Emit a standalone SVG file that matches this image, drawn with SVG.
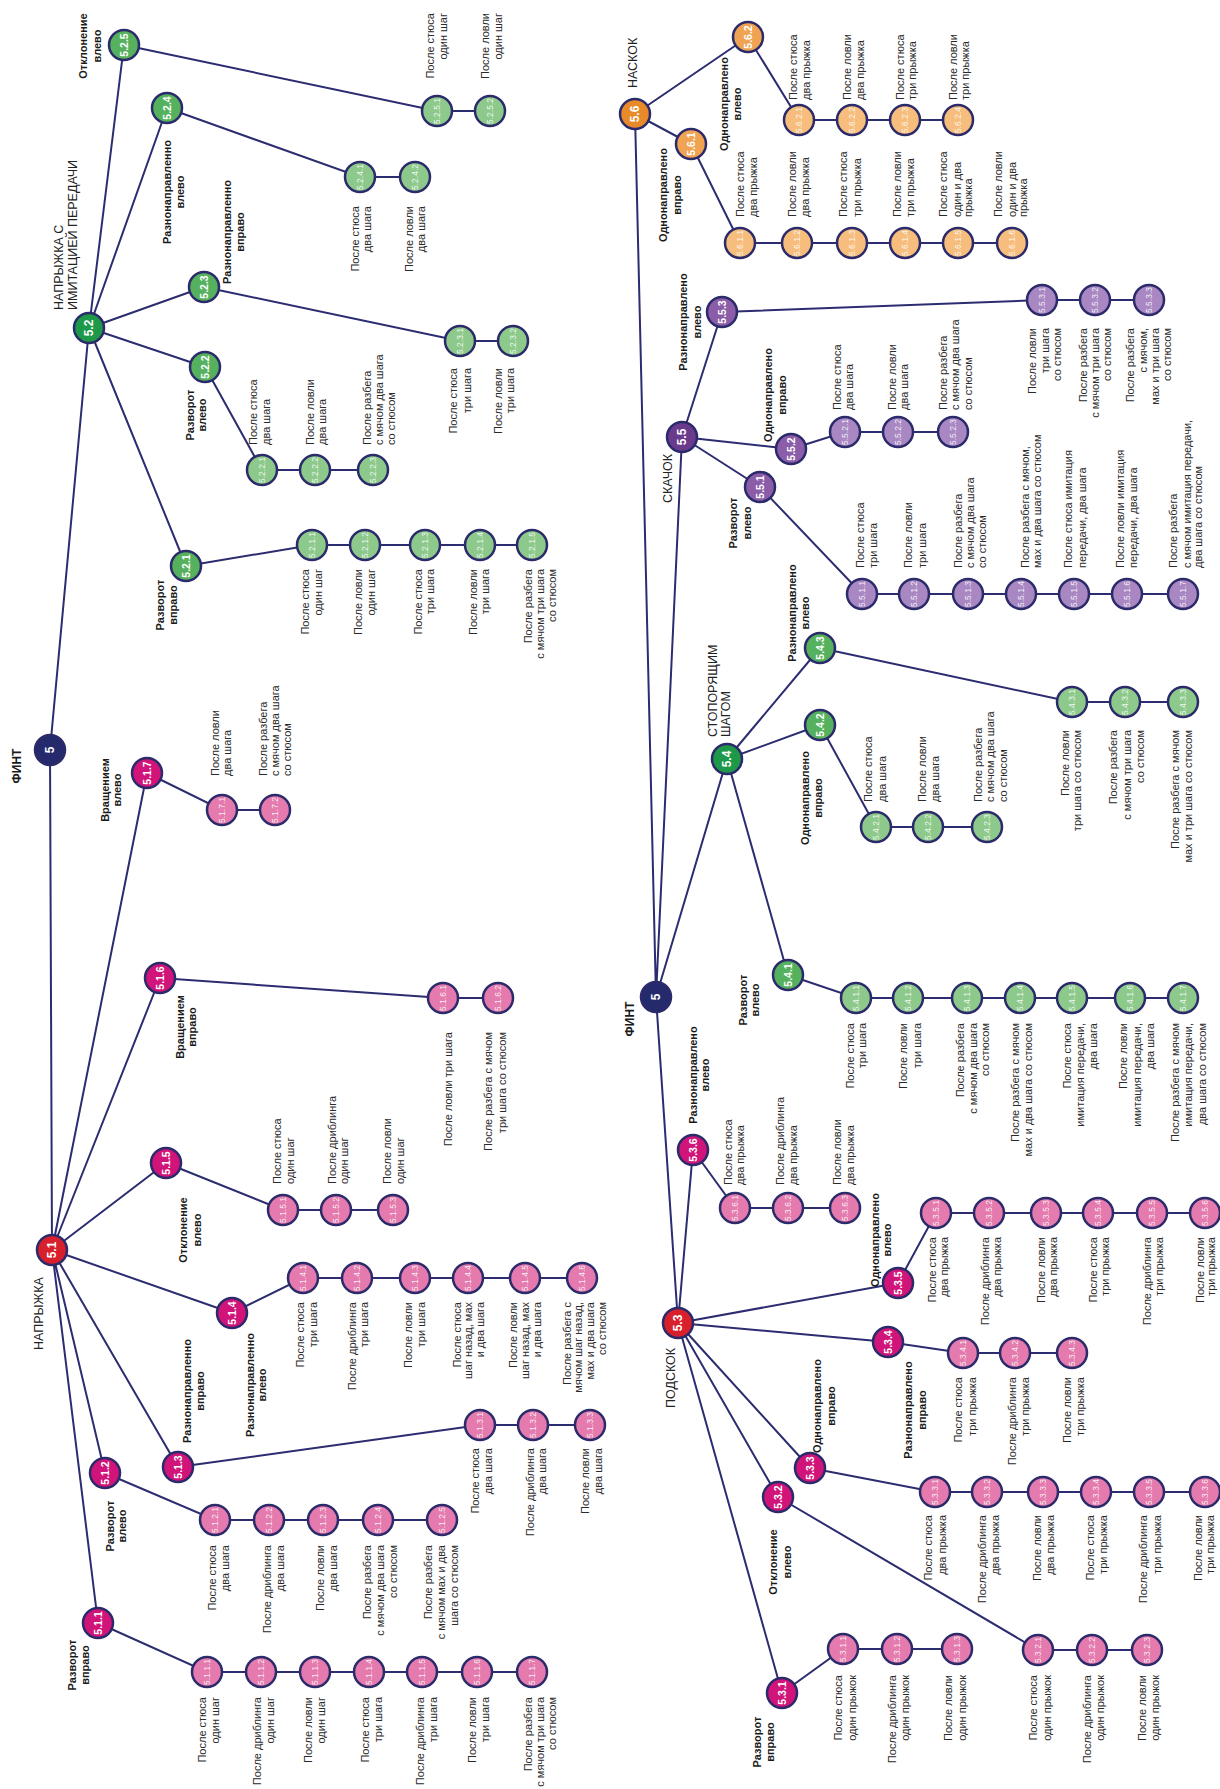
<svg xmlns="http://www.w3.org/2000/svg" width="1220" height="1789" viewBox="0 0 1220 1789">
<style>
text{font-family:"Liberation Sans",Arial,sans-serif}
.ln{stroke:#2c2c70;stroke-width:2;fill:none}
.c{stroke:#2b2a6a;stroke-width:2.5}
.f0{fill:#252a6c}.fr{fill:#d7202b}.fm{fill:#d0147a}.fp{fill:#e47aad}
.fg{fill:#1e9949}.fg2{fill:#55b15d}.fg3{fill:#8dc98b}
.fv{fill:#6a3a8c}.fv2{fill:#8b5ca8}.fv3{fill:#a887c2}
.fo{fill:#e8892a}.fo2{fill:#f0a352}.fo3{fill:#f6bd7c}
.lb{font-size:11px;fill:#2a2a2a}
.bl{font-size:11px;font-weight:bold;fill:#1a1a1a;text-anchor:middle}
.hd{font-size:12.5px;fill:#222}
.n1{font-size:12px;font-weight:bold;fill:#fff;text-anchor:middle}
.n2{font-size:10.5px;font-weight:bold;fill:#fff;text-anchor:middle}
.n3{font-size:8.5px;fill:#fff;fill-opacity:.88;text-anchor:middle}
.e{text-anchor:end}
</style>
<rect width="1220" height="1789" fill="#fff"/>
<g id="connectors" class="ln">
<path d="M50 750L52 1250M50 750L89 328"/>
<path d="M52 1250L98 1623M52 1250L105 1473M52 1250L178 1467M52 1250L232 1313M52 1250L166 1163M52 1250L160 978M52 1250L147 773"/>
<path d="M89 328L186 566M89 328L205 367M89 328L204 287M89 328L167 108M89 328L124 45"/>
<path d="M98 1623L207 1672L532 1672M105 1473L215 1520L442 1520M178 1467L480 1425L590 1425M232 1313L303 1278L582 1278M166 1163L283 1210L393 1210M160 978L443 998L498 998M147 773L222 810L275 810"/>
<path d="M186 566L312 545L532 545M205 367L262 470L373 470M204 287L460 341L513 341M167 108L360 177L415 177M124 45L437 111L490 111"/>
<path d="M656 997L678 1323M656 997L727 759M656 997L682 437M656 997L635 114"/>
<path d="M678 1323L782 1693M678 1323L778 1497M678 1323L810 1468M678 1323L888 1342M678 1323L898 1283M678 1323L693 1150"/>
<path d="M727 759L788 975M727 759L820 725M727 759L820 648M682 437L760 487M682 437L791 449M682 437L722 312M635 114L691 144M635 114L748 37"/>
<path d="M782 1693L843 1649L957 1649M778 1497L1038 1650L1147 1650M810 1468L935 1492L1205 1492M888 1342L963 1353L1072 1353M898 1283L936 1213L1205 1213M693 1150L735 1208L845 1208"/>
<path d="M788 975L856 998L1183 998M820 725L876 827L987 827M820 648L1072 702L1183 702"/>
<path d="M760 487L862 594L1183 594M791 449L845 432L953 432M722 312L1042 300L1149 300M691 144L740 243L1012 243M748 37L799 120L958 120"/>
</g>

<!-- LEFT TREE -->
<g id="n5L"><circle class="c f0" cx="50" cy="750" r="15"/><text class="n1" transform="translate(54.3,750) rotate(-90)">5</text>
<text class="bl" style="font-size:12px" transform="translate(21.3,766) rotate(-90)">ФИНТ</text></g>
<g id="n5_1"><circle class="c fr" cx="52" cy="1250" r="15"/><text class="n1" transform="translate(56.3,1250) rotate(-90)">5.1</text>
<text class="hd" transform="translate(42.5,1350) rotate(-90)">НАПРЫЖКА</text></g>
<g id="n5_2"><circle class="c fg" cx="89" cy="328" r="15"/><text class="n1" transform="translate(93.3,328) rotate(-90)">5.2</text>
<text class="hd" transform="translate(62.5,310) rotate(-90)"><tspan x="0">НАПРЫЖКА С</tspan><tspan x="0" y="14">ИМИТАЦИЕЙ ПЕРЕДАЧИ</tspan></text></g>

<g id="n5_1_1"><circle class="c fm" cx="98" cy="1623" r="15"/><text class="n2" transform="translate(101.8,1623) rotate(-90)">5.1.1</text>
<text class="bl" transform="translate(75.5,1665) rotate(-90)"><tspan x="0">Разворот</tspan><tspan x="0" y="13">вправо</tspan></text></g>
<g id="n5_1_2"><circle class="c fm" cx="105" cy="1473" r="15"/><text class="n2" transform="translate(108.8,1473) rotate(-90)">5.1.2</text>
<text class="bl" transform="translate(113.5,1526) rotate(-90)"><tspan x="0">Разворот</tspan><tspan x="0" y="12">влево</tspan></text></g>
<g id="n5_1_3"><circle class="c fm" cx="178" cy="1467" r="15"/><text class="n2" transform="translate(181.8,1467) rotate(-90)">5.1.3</text>
<text class="bl" transform="translate(190.5,1391) rotate(-90)"><tspan x="0">Разнонаправленно</tspan><tspan x="0" y="13">вправо</tspan></text></g>
<g id="n5_1_4"><circle class="c fm" cx="232" cy="1313" r="15"/><text class="n2" transform="translate(235.8,1313) rotate(-90)">5.1.4</text>
<text class="bl" transform="translate(253.5,1385) rotate(-90)"><tspan x="0">Разнонаправленно</tspan><tspan x="0" y="12">влево</tspan></text></g>
<g id="n5_1_5"><circle class="c fm" cx="166" cy="1163" r="15"/><text class="n2" transform="translate(169.8,1163) rotate(-90)">5.1.5</text>
<text class="bl" transform="translate(186.5,1230) rotate(-90)"><tspan x="0">Отклонение</tspan><tspan x="0" y="14">влево</tspan></text></g>
<g id="n5_1_6"><circle class="c fm" cx="160" cy="978" r="15"/><text class="n2" transform="translate(163.8,978) rotate(-90)">5.1.6</text>
<text class="bl" transform="translate(183.5,1027) rotate(-90)"><tspan x="0">Вращением</tspan><tspan x="0" y="12">вправо</tspan></text></g>
<g id="n5_1_7"><circle class="c fm" cx="147" cy="773" r="15"/><text class="n2" transform="translate(150.8,773) rotate(-90)">5.1.7</text>
<text class="bl" transform="translate(108.5,790) rotate(-90)"><tspan x="0">Вращением</tspan><tspan x="0" y="12">влево</tspan></text></g>

<g id="n5_1_1_1"><circle class="c fp" cx="207" cy="1672" r="15"/><text class="n3" transform="translate(210,1672) rotate(-90)">5.1.1.1</text>
<text class="lb e" transform="translate(205.5,1697) rotate(-90)"><tspan x="0">После стюса</tspan><tspan x="0" y="13">один шаг</tspan></text></g>
<g id="n5_1_1_2"><circle class="c fp" cx="261" cy="1672" r="15"/><text class="n3" transform="translate(264,1672) rotate(-90)">5.1.1.2</text>
<text class="lb e" transform="translate(260.5,1697) rotate(-90)"><tspan x="0">После дриблинга</tspan><tspan x="0" y="13">один шаг</tspan></text></g>
<g id="n5_1_1_3"><circle class="c fp" cx="315" cy="1672" r="15"/><text class="n3" transform="translate(318,1672) rotate(-90)">5.1.1.3</text>
<text class="lb e" transform="translate(311.5,1697) rotate(-90)"><tspan x="0">После ловли</tspan><tspan x="0" y="13">один шаг</tspan></text></g>
<g id="n5_1_1_4"><circle class="c fp" cx="369" cy="1672" r="15"/><text class="n3" transform="translate(372,1672) rotate(-90)">5.1.1.4</text>
<text class="lb e" transform="translate(368.5,1697) rotate(-90)"><tspan x="0">После стюса</tspan><tspan x="0" y="13">три шага</tspan></text></g>
<g id="n5_1_1_5"><circle class="c fp" cx="422" cy="1672" r="15"/><text class="n3" transform="translate(425,1672) rotate(-90)">5.1.1.5</text>
<text class="lb e" transform="translate(423.5,1697) rotate(-90)"><tspan x="0">После дриблинга</tspan><tspan x="0" y="13">три шага</tspan></text></g>
<g id="n5_1_1_6"><circle class="c fp" cx="477" cy="1672" r="15"/><text class="n3" transform="translate(480,1672) rotate(-90)">5.1.1.6</text>
<text class="lb e" transform="translate(475.5,1697) rotate(-90)"><tspan x="0">После ловли</tspan><tspan x="0" y="13">три шага</tspan></text></g>
<g id="n5_1_1_7"><circle class="c fp" cx="532" cy="1672" r="15"/><text class="n3" transform="translate(535,1672) rotate(-90)">5.1.1.7</text>
<text class="lb e" transform="translate(531.5,1697) rotate(-90)"><tspan x="0">После разбега</tspan><tspan x="0" y="12">с мячом три шага</tspan><tspan x="0" y="24">со стюсом</tspan></text></g>

<g id="n5_1_2_1"><circle class="c fp" cx="215" cy="1520" r="15"/><text class="n3" transform="translate(218,1520) rotate(-90)">5.1.2.1</text>
<text class="lb e" transform="translate(215.5,1545) rotate(-90)"><tspan x="0">После стюса</tspan><tspan x="0" y="13">два шага</tspan></text></g>
<g id="n5_1_2_2"><circle class="c fp" cx="269" cy="1520" r="15"/><text class="n3" transform="translate(272,1520) rotate(-90)">5.1.2.2</text>
<text class="lb e" transform="translate(270.5,1545) rotate(-90)"><tspan x="0">После дриблинга</tspan><tspan x="0" y="13">два шага</tspan></text></g>
<g id="n5_1_2_3"><circle class="c fp" cx="323" cy="1520" r="15"/><text class="n3" transform="translate(326,1520) rotate(-90)">5.1.2.3</text>
<text class="lb e" transform="translate(323.5,1545) rotate(-90)"><tspan x="0">После ловли</tspan><tspan x="0" y="13">два шага</tspan></text></g>
<g id="n5_1_2_4"><circle class="c fp" cx="378" cy="1520" r="15"/><text class="n3" transform="translate(381,1520) rotate(-90)">5.1.2.4</text>
<text class="lb e" transform="translate(370.5,1545) rotate(-90)"><tspan x="0">После разбега</tspan><tspan x="0" y="13">с мячом два шага</tspan><tspan x="0" y="26">со стюсом</tspan></text></g>
<g id="n5_1_2_5"><circle class="c fp" cx="442" cy="1520" r="15"/><text class="n3" transform="translate(445,1520) rotate(-90)">5.1.2.5</text>
<text class="lb e" transform="translate(431.5,1545) rotate(-90)"><tspan x="0">После разбега</tspan><tspan x="0" y="13">с мячом мах и два</tspan><tspan x="0" y="26">шага со стюсом</tspan></text></g>

<g id="n5_1_3_1"><circle class="c fp" cx="480" cy="1425" r="15"/><text class="n3" transform="translate(483,1425) rotate(-90)">5.1.3.1</text>
<text class="lb e" transform="translate(478.5,1448) rotate(-90)"><tspan x="0">После стюса</tspan><tspan x="0" y="13">два шага</tspan></text></g>
<g id="n5_1_3_2"><circle class="c fp" cx="533" cy="1425" r="15"/><text class="n3" transform="translate(536,1425) rotate(-90)">5.1.3.2</text>
<text class="lb e" transform="translate(533.5,1448) rotate(-90)"><tspan x="0">После дриблинга</tspan><tspan x="0" y="12">два шага</tspan></text></g>
<g id="n5_1_3_3"><circle class="c fp" cx="590" cy="1425" r="15"/><text class="n3" transform="translate(593,1425) rotate(-90)">5.1.3.3</text>
<text class="lb e" transform="translate(588.5,1448) rotate(-90)"><tspan x="0">После ловли</tspan><tspan x="0" y="13">два шага</tspan></text></g>

<g id="n5_1_4_1"><circle class="c fp" cx="303" cy="1278" r="15"/><text class="n3" transform="translate(306,1278) rotate(-90)">5.1.4.1</text>
<text class="lb e" transform="translate(303.5,1302) rotate(-90)"><tspan x="0">После стюса</tspan><tspan x="0" y="13">три шага</tspan></text></g>
<g id="n5_1_4_2"><circle class="c fp" cx="357" cy="1278" r="15"/><text class="n3" transform="translate(360,1278) rotate(-90)">5.1.4.2</text>
<text class="lb e" transform="translate(355.5,1302) rotate(-90)"><tspan x="0">После дриблинга</tspan><tspan x="0" y="12">три шага</tspan></text></g>
<g id="n5_1_4_3"><circle class="c fp" cx="415" cy="1278" r="15"/><text class="n3" transform="translate(418,1278) rotate(-90)">5.1.4.3</text>
<text class="lb e" transform="translate(411.5,1302) rotate(-90)"><tspan x="0">После ловли</tspan><tspan x="0" y="13">три шага</tspan></text></g>
<g id="n5_1_4_4"><circle class="c fp" cx="468" cy="1278" r="15"/><text class="n3" transform="translate(471,1278) rotate(-90)">5.1.4.4</text>
<text class="lb e" transform="translate(460.5,1302) rotate(-90)"><tspan x="0">После стюса</tspan><tspan x="0" y="11">шаг назад, мах</tspan><tspan x="0" y="23">и два шага</tspan></text></g>
<g id="n5_1_4_5"><circle class="c fp" cx="525" cy="1278" r="15"/><text class="n3" transform="translate(528,1278) rotate(-90)">5.1.4.5</text>
<text class="lb e" transform="translate(516.5,1302) rotate(-90)"><tspan x="0">После ловли</tspan><tspan x="0" y="12">шаг назад, мах</tspan><tspan x="0" y="24">и два шага</tspan></text></g>
<g id="n5_1_4_6"><circle class="c fp" cx="582" cy="1278" r="15"/><text class="n3" transform="translate(585,1278) rotate(-90)">5.1.4.6</text>
<text class="lb e" transform="translate(570.5,1302) rotate(-90)"><tspan x="0">После разбега с</tspan><tspan x="0" y="11">мячом шаг назад,</tspan><tspan x="0" y="23">мах и два шага</tspan><tspan x="0" y="35">со стюсом</tspan></text></g>

<g id="n5_1_5_1"><circle class="c fp" cx="283" cy="1210" r="15"/><text class="n3" transform="translate(286,1210) rotate(-90)">5.1.5.1</text>
<text class="lb" transform="translate(280.5,1184) rotate(-90)"><tspan x="0">После стюса</tspan><tspan x="0" y="13">один шаг</tspan></text></g>
<g id="n5_1_5_2"><circle class="c fp" cx="336" cy="1210" r="15"/><text class="n3" transform="translate(339,1210) rotate(-90)">5.1.5.2</text>
<text class="lb" transform="translate(335.5,1184) rotate(-90)"><tspan x="0">После дриблинга</tspan><tspan x="0" y="12">один шаг</tspan></text></g>
<g id="n5_1_5_3"><circle class="c fp" cx="393" cy="1210" r="15"/><text class="n3" transform="translate(396,1210) rotate(-90)">5.1.5.3</text>
<text class="lb" transform="translate(390.5,1184) rotate(-90)"><tspan x="0">После ловли</tspan><tspan x="0" y="13">один шаг</tspan></text></g>

<g id="n5_1_6_1"><circle class="c fp" cx="443" cy="998" r="15"/><text class="n3" transform="translate(446,998) rotate(-90)">5.1.6.1</text>
<text class="lb e" transform="translate(451.5,1032) rotate(-90)">После ловли три шага</text></g>
<g id="n5_1_6_2"><circle class="c fp" cx="498" cy="998" r="15"/><text class="n3" transform="translate(501,998) rotate(-90)">5.1.6.2</text>
<text class="lb e" transform="translate(491.5,1032) rotate(-90)"><tspan x="0">После разбега с мячом</tspan><tspan x="0" y="14">три шага со стюсом</tspan></text></g>

<g id="n5_1_7_1"><circle class="c fp" cx="222" cy="810" r="15"/><text class="n3" transform="translate(225,810) rotate(-90)">5.1.7.1</text>
<text class="lb" transform="translate(218.5,776) rotate(-90)"><tspan x="0">После ловли</tspan><tspan x="0" y="12">два шага</tspan></text></g>
<g id="n5_1_7_2"><circle class="c fp" cx="275" cy="810" r="15"/><text class="n3" transform="translate(278,810) rotate(-90)">5.1.7.2</text>
<text class="lb" transform="translate(266.5,776) rotate(-90)"><tspan x="0">После разбега</tspan><tspan x="0" y="12">с мячом два шага</tspan><tspan x="0" y="24">со стюсом</tspan></text></g>

<g id="n5_2_1"><circle class="c fg2" cx="186" cy="566" r="15"/><text class="n2" transform="translate(189.8,566) rotate(-90)">5.2.1</text>
<text class="bl" transform="translate(163.5,605) rotate(-90)"><tspan x="0">Разворот</tspan><tspan x="0" y="13">вправо</tspan></text></g>
<g id="n5_2_2"><circle class="c fg2" cx="205" cy="367" r="15"/><text class="n2" transform="translate(208.8,367) rotate(-90)">5.2.2</text>
<text class="bl" transform="translate(193.5,415) rotate(-90)"><tspan x="0">Разворот</tspan><tspan x="0" y="12">влево</tspan></text></g>
<g id="n5_2_3"><circle class="c fg2" cx="204" cy="287" r="15"/><text class="n2" transform="translate(207.8,287) rotate(-90)">5.2.3</text>
<text class="bl" transform="translate(230.5,232) rotate(-90)"><tspan x="0">Разнонаправленно</tspan><tspan x="0" y="13">вправо</tspan></text></g>
<g id="n5_2_4"><circle class="c fg2" cx="167" cy="108" r="15"/><text class="n2" transform="translate(170.8,108) rotate(-90)">5.2.4</text>
<text class="bl" transform="translate(170.5,192) rotate(-90)"><tspan x="0">Разнонаправленно</tspan><tspan x="0" y="13">влево</tspan></text></g>
<g id="n5_2_5"><circle class="c fg2" cx="124" cy="45" r="15"/><text class="n2" transform="translate(127.8,45) rotate(-90)">5.2.5</text>
<text class="bl" transform="translate(86.5,46) rotate(-90)"><tspan x="0">Отклонение</tspan><tspan x="0" y="14">влево</tspan></text></g>

<g id="n5_2_1_1"><circle class="c fg3" cx="312" cy="545" r="15"/><text class="n3" transform="translate(315,545) rotate(-90)">5.2.1.1</text>
<text class="lb e" transform="translate(308.5,569) rotate(-90)"><tspan x="0">После стюса</tspan><tspan x="0" y="13">один шаг</tspan></text></g>
<g id="n5_2_1_2"><circle class="c fg3" cx="365" cy="545" r="15"/><text class="n3" transform="translate(368,545) rotate(-90)">5.2.1.2</text>
<text class="lb e" transform="translate(361.5,569) rotate(-90)"><tspan x="0">После ловли</tspan><tspan x="0" y="13">один шаг</tspan></text></g>
<g id="n5_2_1_3"><circle class="c fg3" cx="425" cy="545" r="15"/><text class="n3" transform="translate(428,545) rotate(-90)">5.2.1.3</text>
<text class="lb e" transform="translate(421.5,569) rotate(-90)"><tspan x="0">После стюса</tspan><tspan x="0" y="12">три шага</tspan></text></g>
<g id="n5_2_1_4"><circle class="c fg3" cx="480" cy="545" r="15"/><text class="n3" transform="translate(483,545) rotate(-90)">5.2.1.4</text>
<text class="lb e" transform="translate(476.5,569) rotate(-90)"><tspan x="0">После ловли</tspan><tspan x="0" y="12">три шага</tspan></text></g>
<g id="n5_2_1_5"><circle class="c fg3" cx="532" cy="545" r="15"/><text class="n3" transform="translate(535,545) rotate(-90)">5.2.1.5</text>
<text class="lb e" transform="translate(531.5,569) rotate(-90)"><tspan x="0">После разбега</tspan><tspan x="0" y="12">с мячом три шага</tspan><tspan x="0" y="24">со стюсом</tspan></text></g>

<g id="n5_2_2_1"><circle class="c fg3" cx="262" cy="470" r="15"/><text class="n3" transform="translate(265,470) rotate(-90)">5.2.2.1</text>
<text class="lb" transform="translate(256.5,445) rotate(-90)"><tspan x="0">После стюса</tspan><tspan x="0" y="13">два шага</tspan></text></g>
<g id="n5_2_2_2"><circle class="c fg3" cx="315" cy="470" r="15"/><text class="n3" transform="translate(318,470) rotate(-90)">5.2.2.2</text>
<text class="lb" transform="translate(313.5,445) rotate(-90)"><tspan x="0">После ловли</tspan><tspan x="0" y="12">два шага</tspan></text></g>
<g id="n5_2_2_3"><circle class="c fg3" cx="373" cy="470" r="15"/><text class="n3" transform="translate(376,470) rotate(-90)">5.2.2.3</text>
<text class="lb" transform="translate(370.5,445) rotate(-90)"><tspan x="0">После разбега</tspan><tspan x="0" y="12">с мячом два шага</tspan><tspan x="0" y="24">со стюсом</tspan></text></g>

<g id="n5_2_3_1"><circle class="c fg3" cx="460" cy="341" r="15"/><text class="n3" transform="translate(463,341) rotate(-90)">5.2.3.1</text>
<text class="lb e" transform="translate(456.5,368) rotate(-90)"><tspan x="0">После стюса</tspan><tspan x="0" y="14">три шага</tspan></text></g>
<g id="n5_2_3_2"><circle class="c fg3" cx="513" cy="341" r="15"/><text class="n3" transform="translate(516,341) rotate(-90)">5.2.3.2</text>
<text class="lb e" transform="translate(501.5,368) rotate(-90)"><tspan x="0">После ловли</tspan><tspan x="0" y="12">три шага</tspan></text></g>

<g id="n5_2_4_1"><circle class="c fg3" cx="360" cy="177" r="15"/><text class="n3" transform="translate(363,177) rotate(-90)">5.2.4.1</text>
<text class="lb e" transform="translate(358.5,206) rotate(-90)"><tspan x="0">После стюса</tspan><tspan x="0" y="12">два шага</tspan></text></g>
<g id="n5_2_4_2"><circle class="c fg3" cx="415" cy="177" r="15"/><text class="n3" transform="translate(418,177) rotate(-90)">5.2.4.2</text>
<text class="lb e" transform="translate(412.5,206) rotate(-90)"><tspan x="0">После ловли</tspan><tspan x="0" y="12">два шага</tspan></text></g>

<g id="n5_2_5_1"><circle class="c fg3" cx="437" cy="111" r="15"/><text class="n3" transform="translate(440,111) rotate(-90)">5.2.5.1</text>
<text class="lb e" transform="translate(433.5,13) rotate(-90)"><tspan x="0">После стюса</tspan><tspan x="0" y="13">один шаг</tspan></text></g>
<g id="n5_2_5_2"><circle class="c fg3" cx="490" cy="111" r="15"/><text class="n3" transform="translate(493,111) rotate(-90)">5.2.5.2</text>
<text class="lb e" transform="translate(488.5,13) rotate(-90)"><tspan x="0">После ловли</tspan><tspan x="0" y="13">один шаг</tspan></text></g>

<!-- RIGHT TREE -->
<g id="n5R"><circle class="c f0" cx="656" cy="997" r="15"/><text class="n1" transform="translate(660.3,997) rotate(-90)">5</text>
<text class="bl" style="font-size:12px" transform="translate(634,1019) rotate(-90)">ФИНТ</text></g>
<g id="n5_3"><circle class="c fr" cx="678" cy="1323" r="15"/><text class="n1" transform="translate(682.3,1323) rotate(-90)">5.3</text>
<text class="hd" transform="translate(674.5,1408) rotate(-90)">ПОДСКОК</text></g>
<g id="n5_4"><circle class="c fg" cx="727" cy="759" r="15"/><text class="n1" transform="translate(731.3,759) rotate(-90)">5.4</text>
<text class="hd" transform="translate(716.5,737) rotate(-90)"><tspan x="0">СТОПОРЯЩИМ</tspan><tspan x="0" y="13">ШАГОМ</tspan></text></g>
<g id="n5_5"><circle class="c fv" cx="682" cy="437" r="15"/><text class="n1" transform="translate(686.3,437) rotate(-90)">5.5</text>
<text class="hd" transform="translate(671.5,503) rotate(-90)">СКАЧОК</text></g>
<g id="n5_6"><circle class="c fo" cx="635" cy="114" r="15"/><text class="n1" transform="translate(639.3,114) rotate(-90)">5.6</text>
<text class="hd" transform="translate(637,88) rotate(-90)">НАСКОК</text></g>

<g id="n5_3_1"><circle class="c fm" cx="782" cy="1693" r="15"/><text class="n2" transform="translate(785.8,1693) rotate(-90)">5.3.1</text>
<text class="bl" transform="translate(760.5,1742) rotate(-90)"><tspan x="0">Разворот</tspan><tspan x="0" y="13">вправо</tspan></text></g>
<g id="n5_3_2"><circle class="c fm" cx="778" cy="1497" r="15"/><text class="n2" transform="translate(781.8,1497) rotate(-90)">5.3.2</text>
<text class="bl" transform="translate(776.5,1562) rotate(-90)"><tspan x="0">Отклонение</tspan><tspan x="0" y="14">влево</tspan></text></g>
<g id="n5_3_3"><circle class="c fm" cx="810" cy="1468" r="15"/><text class="n2" transform="translate(813.8,1468) rotate(-90)">5.3.3</text>
<text class="bl" transform="translate(820.5,1406) rotate(-90)"><tspan x="0">Однонаправлено</tspan><tspan x="0" y="14">вправо</tspan></text></g>
<g id="n5_3_4"><circle class="c fm" cx="888" cy="1342" r="15"/><text class="n2" transform="translate(891.8,1342) rotate(-90)">5.3.4</text>
<text class="bl" transform="translate(911.5,1410) rotate(-90)"><tspan x="0">Разнонаправлено</tspan><tspan x="0" y="14">вправо</tspan></text></g>
<g id="n5_3_5"><circle class="c fm" cx="898" cy="1283" r="15"/><text class="n2" transform="translate(901.8,1283) rotate(-90)">5.3.5</text>
<text class="bl" transform="translate(878.5,1240) rotate(-90)"><tspan x="0">Однонаправлено</tspan><tspan x="0" y="12">влево</tspan></text></g>
<g id="n5_3_6"><circle class="c fm" cx="693" cy="1150" r="15"/><text class="n2" transform="translate(696.8,1150) rotate(-90)">5.3.6</text>
<text class="bl" transform="translate(696.5,1075) rotate(-90)"><tspan x="0">Разнонаправлено</tspan><tspan x="0" y="12">влево</tspan></text></g>

<g id="n5_3_1_1"><circle class="c fp" cx="843" cy="1649" r="15"/><text class="n3" transform="translate(846,1649) rotate(-90)">5.3.1.1</text>
<text class="lb e" transform="translate(841.5,1675) rotate(-90)"><tspan x="0">После стюса</tspan><tspan x="0" y="14">один прыжок</tspan></text></g>
<g id="n5_3_1_2"><circle class="c fp" cx="897" cy="1649" r="15"/><text class="n3" transform="translate(900,1649) rotate(-90)">5.3.1.2</text>
<text class="lb e" transform="translate(895.5,1675) rotate(-90)"><tspan x="0">После дриблинга</tspan><tspan x="0" y="13">один прыжок</tspan></text></g>
<g id="n5_3_1_3"><circle class="c fp" cx="957" cy="1649" r="15"/><text class="n3" transform="translate(960,1649) rotate(-90)">5.3.1.3</text>
<text class="lb e" transform="translate(951.5,1675) rotate(-90)"><tspan x="0">После ловли</tspan><tspan x="0" y="14">один прыжок</tspan></text></g>

<g id="n5_3_2_1"><circle class="c fp" cx="1038" cy="1650" r="15"/><text class="n3" transform="translate(1041,1650) rotate(-90)">5.3.2.1</text>
<text class="lb e" transform="translate(1036.5,1675) rotate(-90)"><tspan x="0">После стюса</tspan><tspan x="0" y="14">один прыжок</tspan></text></g>
<g id="n5_3_2_2"><circle class="c fp" cx="1092" cy="1650" r="15"/><text class="n3" transform="translate(1095,1650) rotate(-90)">5.3.2.2</text>
<text class="lb e" transform="translate(1090.5,1675) rotate(-90)"><tspan x="0">После дриблинга</tspan><tspan x="0" y="13">один прыжок</tspan></text></g>
<g id="n5_3_2_3"><circle class="c fp" cx="1147" cy="1650" r="15"/><text class="n3" transform="translate(1150,1650) rotate(-90)">5.3.2.3</text>
<text class="lb e" transform="translate(1145.5,1675) rotate(-90)"><tspan x="0">После ловли</tspan><tspan x="0" y="13">один прыжок</tspan></text></g>

<g id="n5_3_3_1"><circle class="c fp" cx="935" cy="1492" r="15"/><text class="n3" transform="translate(938,1492) rotate(-90)">5.3.3.1</text>
<text class="lb e" transform="translate(931.5,1515) rotate(-90)"><tspan x="0">После стюса</tspan><tspan x="0" y="14">два прыжка</tspan></text></g>
<g id="n5_3_3_2"><circle class="c fp" cx="987" cy="1492" r="15"/><text class="n3" transform="translate(990,1492) rotate(-90)">5.3.3.2</text>
<text class="lb e" transform="translate(985.5,1515) rotate(-90)"><tspan x="0">После дриблинга</tspan><tspan x="0" y="13">два прыжка</tspan></text></g>
<g id="n5_3_3_3"><circle class="c fp" cx="1043" cy="1492" r="15"/><text class="n3" transform="translate(1046,1492) rotate(-90)">5.3.3.3</text>
<text class="lb e" transform="translate(1040.5,1515) rotate(-90)"><tspan x="0">После ловли</tspan><tspan x="0" y="13">два прыжка</tspan></text></g>
<g id="n5_3_3_4"><circle class="c fp" cx="1096" cy="1492" r="15"/><text class="n3" transform="translate(1099,1492) rotate(-90)">5.3.3.4</text>
<text class="lb e" transform="translate(1093.5,1515) rotate(-90)"><tspan x="0">После стюса</tspan><tspan x="0" y="13">три прыжка</tspan></text></g>
<g id="n5_3_3_5"><circle class="c fp" cx="1149" cy="1492" r="15"/><text class="n3" transform="translate(1152,1492) rotate(-90)">5.3.3.5</text>
<text class="lb e" transform="translate(1146.5,1515) rotate(-90)"><tspan x="0">После дриблинга</tspan><tspan x="0" y="14">три прыжка</tspan></text></g>
<g id="n5_3_3_6"><circle class="c fp" cx="1205" cy="1492" r="15"/><text class="n3" transform="translate(1208,1492) rotate(-90)">5.3.3.6</text>
<text class="lb e" transform="translate(1201.5,1515) rotate(-90)"><tspan x="0">После ловли</tspan><tspan x="0" y="12">три прыжка</tspan></text></g>

<g id="n5_3_4_1"><circle class="c fp" cx="963" cy="1353" r="15"/><text class="n3" transform="translate(966,1353) rotate(-90)">5.3.4.1</text>
<text class="lb e" transform="translate(961.5,1377) rotate(-90)"><tspan x="0">После стюса</tspan><tspan x="0" y="14">три прыжка</tspan></text></g>
<g id="n5_3_4_2"><circle class="c fp" cx="1015" cy="1353" r="15"/><text class="n3" transform="translate(1018,1353) rotate(-90)">5.3.4.2</text>
<text class="lb e" transform="translate(1015.5,1377) rotate(-90)"><tspan x="0">После дриблинга</tspan><tspan x="0" y="13">три прыжка</tspan></text></g>
<g id="n5_3_4_3"><circle class="c fp" cx="1072" cy="1353" r="15"/><text class="n3" transform="translate(1075,1353) rotate(-90)">5.3.4.3</text>
<text class="lb e" transform="translate(1070.5,1377) rotate(-90)"><tspan x="0">После ловли</tspan><tspan x="0" y="13">три прыжка</tspan></text></g>

<g id="n5_3_5_1"><circle class="c fp" cx="936" cy="1213" r="15"/><text class="n3" transform="translate(939,1213) rotate(-90)">5.3.5.1</text>
<text class="lb e" transform="translate(935.5,1237) rotate(-90)"><tspan x="0">После стюса</tspan><tspan x="0" y="12">два прыжка</tspan></text></g>
<g id="n5_3_5_2"><circle class="c fp" cx="989" cy="1213" r="15"/><text class="n3" transform="translate(992,1213) rotate(-90)">5.3.5.2</text>
<text class="lb e" transform="translate(988.5,1237) rotate(-90)"><tspan x="0">После дриблинга</tspan><tspan x="0" y="12">два прыжка</tspan></text></g>
<g id="n5_3_5_3"><circle class="c fp" cx="1046" cy="1213" r="15"/><text class="n3" transform="translate(1049,1213) rotate(-90)">5.3.5.3</text>
<text class="lb e" transform="translate(1044.5,1237) rotate(-90)"><tspan x="0">После ловли</tspan><tspan x="0" y="12">два прыжка</tspan></text></g>
<g id="n5_3_5_4"><circle class="c fp" cx="1098" cy="1213" r="15"/><text class="n3" transform="translate(1101,1213) rotate(-90)">5.3.5.4</text>
<text class="lb e" transform="translate(1096.5,1237) rotate(-90)"><tspan x="0">После стюса</tspan><tspan x="0" y="12">три прыжка</tspan></text></g>
<g id="n5_3_5_5"><circle class="c fp" cx="1152" cy="1213" r="15"/><text class="n3" transform="translate(1155,1213) rotate(-90)">5.3.5.5</text>
<text class="lb e" transform="translate(1150.5,1237) rotate(-90)"><tspan x="0">После дриблинга</tspan><tspan x="0" y="12">три прыжка</tspan></text></g>
<g id="n5_3_5_6"><circle class="c fp" cx="1205" cy="1213" r="15"/><text class="n3" transform="translate(1208,1213) rotate(-90)">5.3.5.6</text>
<text class="lb e" transform="translate(1203.5,1237) rotate(-90)"><tspan x="0">После ловли</tspan><tspan x="0" y="11">три прыжка</tspan></text></g>

<g id="n5_3_6_1"><circle class="c fp" cx="735" cy="1208" r="15"/><text class="n3" transform="translate(738,1208) rotate(-90)">5.3.6.1</text>
<text class="lb" transform="translate(731.5,1185) rotate(-90)"><tspan x="0">После стюса</tspan><tspan x="0" y="12">два прыжка</tspan></text></g>
<g id="n5_3_6_2"><circle class="c fp" cx="788" cy="1208" r="15"/><text class="n3" transform="translate(791,1208) rotate(-90)">5.3.6.2</text>
<text class="lb" transform="translate(783.5,1185) rotate(-90)"><tspan x="0">После дриблинга</tspan><tspan x="0" y="13">два прыжка</tspan></text></g>
<g id="n5_3_6_3"><circle class="c fp" cx="845" cy="1208" r="15"/><text class="n3" transform="translate(848,1208) rotate(-90)">5.3.6.3</text>
<text class="lb" transform="translate(840.5,1185) rotate(-90)"><tspan x="0">После ловли</tspan><tspan x="0" y="13">два прыжка</tspan></text></g>

<g id="n5_4_1"><circle class="c fg2" cx="788" cy="975" r="15"/><text class="n2" transform="translate(791.8,975) rotate(-90)">5.4.1</text>
<text class="bl" transform="translate(746.5,1000) rotate(-90)"><tspan x="0">Разворот</tspan><tspan x="0" y="12">влево</tspan></text></g>
<g id="n5_4_2"><circle class="c fg2" cx="820" cy="725" r="15"/><text class="n2" transform="translate(823.8,725) rotate(-90)">5.4.2</text>
<text class="bl" transform="translate(808.5,798) rotate(-90)"><tspan x="0">Однонаправлено</tspan><tspan x="0" y="13">вправо</tspan></text></g>
<g id="n5_4_3"><circle class="c fg2" cx="820" cy="648" r="15"/><text class="n2" transform="translate(823.8,648) rotate(-90)">5.4.3</text>
<text class="bl" transform="translate(795.5,613) rotate(-90)"><tspan x="0">Разнонаправлено</tspan><tspan x="0" y="13">влево</tspan></text></g>

<g id="n5_4_1_1"><circle class="c fg3" cx="856" cy="998" r="15"/><text class="n3" transform="translate(859,998) rotate(-90)">5.4.1.1</text>
<text class="lb e" transform="translate(853.5,1023) rotate(-90)"><tspan x="0">После стюса</tspan><tspan x="0" y="12">три шага</tspan></text></g>
<g id="n5_4_1_2"><circle class="c fg3" cx="908" cy="998" r="15"/><text class="n3" transform="translate(911,998) rotate(-90)">5.4.1.2</text>
<text class="lb e" transform="translate(906.5,1023) rotate(-90)"><tspan x="0">После ловли</tspan><tspan x="0" y="14">три шага</tspan></text></g>
<g id="n5_4_1_3"><circle class="c fg3" cx="967" cy="998" r="15"/><text class="n3" transform="translate(970,998) rotate(-90)">5.4.1.3</text>
<text class="lb e" transform="translate(963.5,1023) rotate(-90)"><tspan x="0">После разбега</tspan><tspan x="0" y="13">с мячом два шага</tspan><tspan x="0" y="25">со стюсом</tspan></text></g>
<g id="n5_4_1_4"><circle class="c fg3" cx="1020" cy="998" r="15"/><text class="n3" transform="translate(1023,998) rotate(-90)">5.4.1.4</text>
<text class="lb e" transform="translate(1018.5,1023) rotate(-90)"><tspan x="0">После разбега с мячом</tspan><tspan x="0" y="13">мах и два шага со стюсом</tspan></text></g>
<g id="n5_4_1_5"><circle class="c fg3" cx="1072" cy="998" r="15"/><text class="n3" transform="translate(1075,998) rotate(-90)">5.4.1.5</text>
<text class="lb e" transform="translate(1070.5,1023) rotate(-90)"><tspan x="0">После стюса</tspan><tspan x="0" y="13">имитация передачи,</tspan><tspan x="0" y="26">два шага</tspan></text></g>
<g id="n5_4_1_6"><circle class="c fg3" cx="1130" cy="998" r="15"/><text class="n3" transform="translate(1133,998) rotate(-90)">5.4.1.6</text>
<text class="lb e" transform="translate(1126.5,1023) rotate(-90)"><tspan x="0">После ловли</tspan><tspan x="0" y="14">имитация передачи,</tspan><tspan x="0" y="27">два шага</tspan></text></g>
<g id="n5_4_1_7"><circle class="c fg3" cx="1183" cy="998" r="15"/><text class="n3" transform="translate(1186,998) rotate(-90)">5.4.1.7</text>
<text class="lb e" transform="translate(1178.5,1023) rotate(-90)"><tspan x="0">После разбега с мячом</tspan><tspan x="0" y="13">имитация передачи,</tspan><tspan x="0" y="27">два шага со стюсом</tspan></text></g>

<g id="n5_4_2_1"><circle class="c fg3" cx="876" cy="827" r="15"/><text class="n3" transform="translate(879,827) rotate(-90)">5.4.2.1</text>
<text class="lb" transform="translate(871.5,802) rotate(-90)"><tspan x="0">После стюса</tspan><tspan x="0" y="14">два шага</tspan></text></g>
<g id="n5_4_2_2"><circle class="c fg3" cx="928" cy="827" r="15"/><text class="n3" transform="translate(931,827) rotate(-90)">5.4.2.2</text>
<text class="lb" transform="translate(925.5,802) rotate(-90)"><tspan x="0">После ловли</tspan><tspan x="0" y="13">два шага</tspan></text></g>
<g id="n5_4_2_3"><circle class="c fg3" cx="987" cy="827" r="15"/><text class="n3" transform="translate(990,827) rotate(-90)">5.4.2.3</text>
<text class="lb" transform="translate(981.5,802) rotate(-90)"><tspan x="0">После разбега</tspan><tspan x="0" y="12">с мячом два шага</tspan><tspan x="0" y="25">со стюсом</tspan></text></g>

<g id="n5_4_3_1"><circle class="c fg3" cx="1072" cy="702" r="15"/><text class="n3" transform="translate(1075,702) rotate(-90)">5.4.3.1</text>
<text class="lb e" transform="translate(1068.5,730) rotate(-90)"><tspan x="0">После ловли</tspan><tspan x="0" y="12">три шага со стюсом</tspan></text></g>
<g id="n5_4_3_2"><circle class="c fg3" cx="1125" cy="702" r="15"/><text class="n3" transform="translate(1128,702) rotate(-90)">5.4.3.2</text>
<text class="lb e" transform="translate(1116.5,730) rotate(-90)"><tspan x="0">После разбега</tspan><tspan x="0" y="14">с мячом три шага</tspan><tspan x="0" y="27">со стюсом</tspan></text></g>
<g id="n5_4_3_3"><circle class="c fg3" cx="1183" cy="702" r="15"/><text class="n3" transform="translate(1186,702) rotate(-90)">5.4.3.3</text>
<text class="lb e" transform="translate(1178.5,730) rotate(-90)"><tspan x="0">После разбега с мячом</tspan><tspan x="0" y="13">мах и три шага со стюсом</tspan></text></g>

<g id="n5_5_1"><circle class="c fv2" cx="760" cy="487" r="15"/><text class="n2" transform="translate(763.8,487) rotate(-90)">5.5.1</text>
<text class="bl" transform="translate(736.5,523) rotate(-90)"><tspan x="0">Разворот</tspan><tspan x="0" y="14">влево</tspan></text></g>
<g id="n5_5_2"><circle class="c fv2" cx="791" cy="449" r="15"/><text class="n2" transform="translate(794.8,449) rotate(-90)">5.5.2</text>
<text class="bl" transform="translate(771.5,395) rotate(-90)"><tspan x="0">Однонаправлено</tspan><tspan x="0" y="14">вправо</tspan></text></g>
<g id="n5_5_3"><circle class="c fv2" cx="722" cy="312" r="15"/><text class="n2" transform="translate(725.8,312) rotate(-90)">5.5.3</text>
<text class="bl" transform="translate(686.5,322) rotate(-90)"><tspan x="0">Разнонаправлено</tspan><tspan x="0" y="14">влево</tspan></text></g>

<g id="n5_5_1_1"><circle class="c fv3" cx="862" cy="594" r="15"/><text class="n3" transform="translate(865,594) rotate(-90)">5.5.1.1</text>
<text class="lb" transform="translate(863.5,568) rotate(-90)"><tspan x="0">После стюса</tspan><tspan x="0" y="13">три шага</tspan></text></g>
<g id="n5_5_1_2"><circle class="c fv3" cx="914" cy="594" r="15"/><text class="n3" transform="translate(917,594) rotate(-90)">5.5.1.2</text>
<text class="lb" transform="translate(911.5,568) rotate(-90)"><tspan x="0">После ловли</tspan><tspan x="0" y="14">три шага</tspan></text></g>
<g id="n5_5_1_3"><circle class="c fv3" cx="968" cy="594" r="15"/><text class="n3" transform="translate(971,594) rotate(-90)">5.5.1.3</text>
<text class="lb" transform="translate(961.5,568) rotate(-90)"><tspan x="0">После разбега</tspan><tspan x="0" y="12">с мячом два шага</tspan><tspan x="0" y="24">со стюсом</tspan></text></g>
<g id="n5_5_1_4"><circle class="c fv3" cx="1021" cy="594" r="15"/><text class="n3" transform="translate(1024,594) rotate(-90)">5.5.1.4</text>
<text class="lb" transform="translate(1028.5,568) rotate(-90)"><tspan x="0">После разбега с мячом,</tspan><tspan x="0" y="12">мах и два шага со стюсом</tspan></text></g>
<g id="n5_5_1_5"><circle class="c fv3" cx="1074" cy="594" r="15"/><text class="n3" transform="translate(1077,594) rotate(-90)">5.5.1.5</text>
<text class="lb" transform="translate(1071.5,568) rotate(-90)"><tspan x="0">После стюса имитация</tspan><tspan x="0" y="14">передачи, два шага</tspan></text></g>
<g id="n5_5_1_6"><circle class="c fv3" cx="1127" cy="594" r="15"/><text class="n3" transform="translate(1130,594) rotate(-90)">5.5.1.6</text>
<text class="lb" transform="translate(1123.5,568) rotate(-90)"><tspan x="0">После ловли имитация</tspan><tspan x="0" y="13">передачи, два шага</tspan></text></g>
<g id="n5_5_1_7"><circle class="c fv3" cx="1183" cy="594" r="15"/><text class="n3" transform="translate(1186,594) rotate(-90)">5.5.1.7</text>
<text class="lb" transform="translate(1176.5,568) rotate(-90)"><tspan x="0">После разбега</tspan><tspan x="0" y="14">с мячом имитация передачи,</tspan><tspan x="0" y="25">два шага со стюсом</tspan></text></g>

<g id="n5_5_2_1"><circle class="c fv3" cx="845" cy="432" r="15"/><text class="n3" transform="translate(848,432) rotate(-90)">5.5.2.1</text>
<text class="lb" transform="translate(840.5,410) rotate(-90)"><tspan x="0">После стюса</tspan><tspan x="0" y="12">два шага</tspan></text></g>
<g id="n5_5_2_2"><circle class="c fv3" cx="898" cy="432" r="15"/><text class="n3" transform="translate(901,432) rotate(-90)">5.5.2.2</text>
<text class="lb" transform="translate(895.5,410) rotate(-90)"><tspan x="0">После ловли</tspan><tspan x="0" y="12">два шага</tspan></text></g>
<g id="n5_5_2_3"><circle class="c fv3" cx="953" cy="432" r="15"/><text class="n3" transform="translate(956,432) rotate(-90)">5.5.2.3</text>
<text class="lb" transform="translate(946.5,410) rotate(-90)"><tspan x="0">После разбега</tspan><tspan x="0" y="12">с мячом два шага</tspan><tspan x="0" y="25">со стюсом</tspan></text></g>

<g id="n5_5_3_1"><circle class="c fv3" cx="1042" cy="300" r="15"/><text class="n3" transform="translate(1045,300) rotate(-90)">5.5.3.1</text>
<text class="lb e" transform="translate(1035.5,328) rotate(-90)"><tspan x="0">После ловли</tspan><tspan x="0" y="13">три шага</tspan><tspan x="0" y="25">со стюсом</tspan></text></g>
<g id="n5_5_3_2"><circle class="c fv3" cx="1095" cy="300" r="15"/><text class="n3" transform="translate(1098,300) rotate(-90)">5.5.3.2</text>
<text class="lb e" transform="translate(1086.5,328) rotate(-90)"><tspan x="0">После разбега</tspan><tspan x="0" y="12">с мячом три шага</tspan><tspan x="0" y="24">со стюсом</tspan></text></g>
<g id="n5_5_3_3"><circle class="c fv3" cx="1149" cy="300" r="15"/><text class="n3" transform="translate(1152,300) rotate(-90)">5.5.3.3</text>
<text class="lb e" transform="translate(1133.5,328) rotate(-90)"><tspan x="0">После разбега</tspan><tspan x="0" y="13">с мячом,</tspan><tspan x="0" y="25">мах и три шага</tspan><tspan x="0" y="37">со стюсом</tspan></text></g>

<g id="n5_6_1"><circle class="c fo2" cx="691" cy="144" r="15"/><text class="n2" transform="translate(694.8,144) rotate(-90)">5.6.1</text>
<text class="bl" transform="translate(666.5,195) rotate(-90)"><tspan x="0">Однонаправлено</tspan><tspan x="0" y="14">вправо</tspan></text></g>
<g id="n5_6_2"><circle class="c fo2" cx="748" cy="37" r="15"/><text class="n2" transform="translate(751.8,37) rotate(-90)">5.6.2</text>
<text class="bl" transform="translate(727.5,104) rotate(-90)"><tspan x="0">Однонаправлено</tspan><tspan x="0" y="13">влево</tspan></text></g>

<g id="n5_6_1_1"><circle class="c fo3" cx="740" cy="243" r="15"/><text class="n3" transform="translate(743,243) rotate(-90)">5.6.1.1</text>
<text class="lb" transform="translate(743.5,217) rotate(-90)"><tspan x="0">После стюса</tspan><tspan x="0" y="13">два прыжка</tspan></text></g>
<g id="n5_6_1_2"><circle class="c fo3" cx="797" cy="243" r="15"/><text class="n3" transform="translate(800,243) rotate(-90)">5.6.1.2</text>
<text class="lb" transform="translate(795.5,217) rotate(-90)"><tspan x="0">После ловли</tspan><tspan x="0" y="13">два прыжка</tspan></text></g>
<g id="n5_6_1_3"><circle class="c fo3" cx="852" cy="243" r="15"/><text class="n3" transform="translate(855,243) rotate(-90)">5.6.1.3</text>
<text class="lb" transform="translate(846.5,217) rotate(-90)"><tspan x="0">После стюса</tspan><tspan x="0" y="14">три прыжка</tspan></text></g>
<g id="n5_6_1_4"><circle class="c fo3" cx="905" cy="243" r="15"/><text class="n3" transform="translate(908,243) rotate(-90)">5.6.1.4</text>
<text class="lb" transform="translate(900.5,217) rotate(-90)"><tspan x="0">После ловли</tspan><tspan x="0" y="13">три прыжка</tspan></text></g>
<g id="n5_6_1_5"><circle class="c fo3" cx="958" cy="243" r="15"/><text class="n3" transform="translate(961,243) rotate(-90)">5.6.1.5</text>
<text class="lb" transform="translate(946.5,217) rotate(-90)"><tspan x="0">После стюса</tspan><tspan x="0" y="14">один и два</tspan><tspan x="0" y="25">прыжка</tspan></text></g>
<g id="n5_6_1_6"><circle class="c fo3" cx="1012" cy="243" r="15"/><text class="n3" transform="translate(1015,243) rotate(-90)">5.6.1.6</text>
<text class="lb" transform="translate(1001.5,217) rotate(-90)"><tspan x="0">После ловли</tspan><tspan x="0" y="14">один и два</tspan><tspan x="0" y="25">прыжка</tspan></text></g>

<g id="n5_6_2_1"><circle class="c fo3" cx="799" cy="120" r="15"/><text class="n3" transform="translate(802,120) rotate(-90)">5.6.2.1</text>
<text class="lb" transform="translate(796.5,100) rotate(-90)"><tspan x="0">После стюса</tspan><tspan x="0" y="13">два прыжка</tspan></text></g>
<g id="n5_6_2_2"><circle class="c fo3" cx="852" cy="120" r="15"/><text class="n3" transform="translate(855,120) rotate(-90)">5.6.2.2</text>
<text class="lb" transform="translate(850.5,100) rotate(-90)"><tspan x="0">После ловли</tspan><tspan x="0" y="13">два прыжка</tspan></text></g>
<g id="n5_6_2_3"><circle class="c fo3" cx="905" cy="120" r="15"/><text class="n3" transform="translate(908,120) rotate(-90)">5.6.2.3</text>
<text class="lb" transform="translate(903.5,100) rotate(-90)"><tspan x="0">После стюса</tspan><tspan x="0" y="12">три прыжка</tspan></text></g>
<g id="n5_6_2_4"><circle class="c fo3" cx="958" cy="120" r="15"/><text class="n3" transform="translate(961,120) rotate(-90)">5.6.2.4</text>
<text class="lb" transform="translate(956.5,100) rotate(-90)"><tspan x="0">После ловли</tspan><tspan x="0" y="12">три прыжка</tspan></text></g>
</svg>
